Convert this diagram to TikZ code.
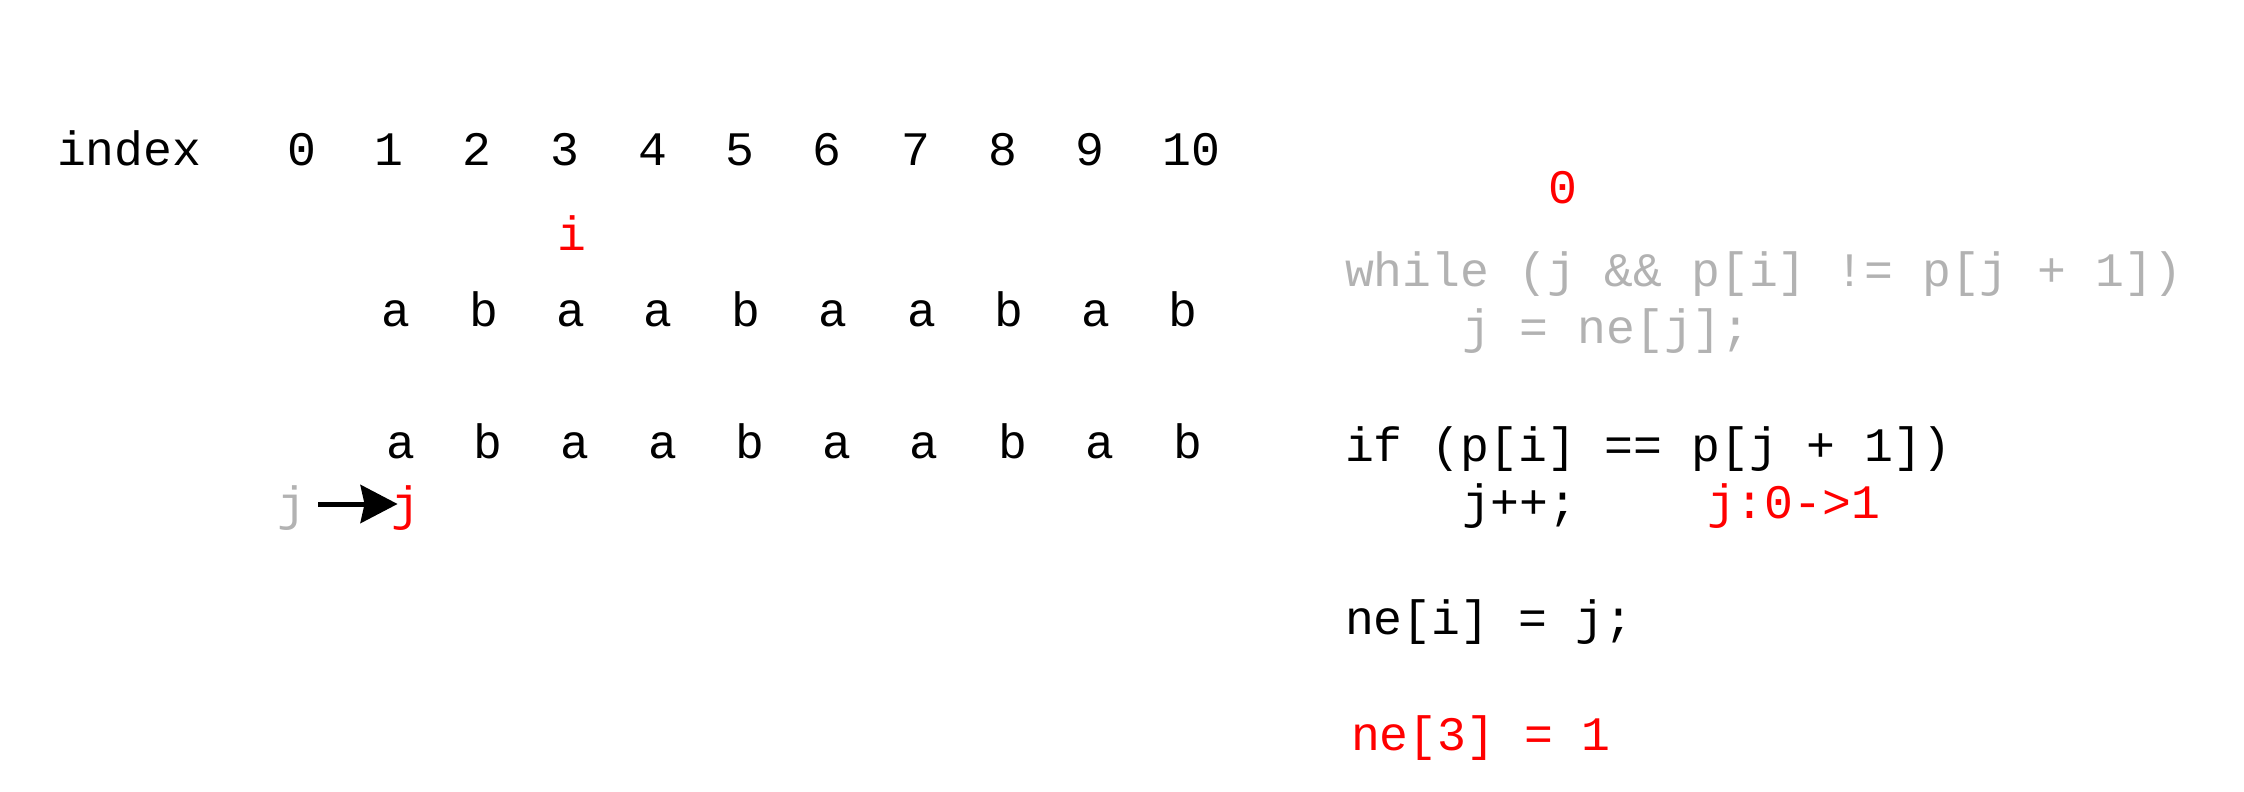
\documentclass[tikz,border=0pt]{standalone}
\usepackage{fontspec}
\newfontfamily\codefont[WordSpace={1,0,0}]{Liberation Mono}
\usetikzlibrary{arrows.meta}
\definecolor{hlred}{RGB}{255,0,0}
\definecolor{dimgray}{RGB}{178,178,178}
\begin{document}
\begin{tikzpicture}[x=0.5pt,y=-0.5pt,
  every node/.style={inner sep=0pt, outer sep=0pt, font=\codefont\fontsize{24.05}{29}\selectfont},
  txt/.style={anchor=base west},
  ctr/.style={anchor=base},
  hl/.style={text=hlred},
  dim/.style={text=dimgray},
  moveArrow/.style={line width=2.5pt, -{Stealth[length=18.5pt,width=19pt,inset=2pt]}}]
\path[use as bounding box] (0,0) rectangle (2244,792);
% index row
\node[txt] (idx) at (57,165) {index};
\foreach \d/\x in {0/302,1/389,2/477,3/565,4/653,5/740,6/827,7/916,8/1003,9/1090,10/1191}
  \node[ctr] (d\d) at (\x,165) {\d};
% i pointer
\node[ctr,hl] (ip) at (572,250) {i};
% first string row
\foreach \c/\x [count=\k] in {a/396,b/484,a/571,a/658,b/746,a/833,a/922,b/1009,a/1096,b/1183}
  \node[ctr] (s\k) at (\x,326) {\c};
% second string row
\foreach \c/\x [count=\k] in {a/401,b/488,a/575,a/663,b/750,a/837,a/924,b/1013,a/1100,b/1188}
  \node[ctr] (p\k) at (\x,458) {\c};
% j pointers
\node[ctr,dim] (gj) at (292,520) {j};
\node[ctr,hl] (rj) at (406,520) {j};
\draw[moveArrow, shorten <=6pt, shorten >=-3pt] ([yshift=8pt]gj.base east) -- ([yshift=8pt]rj.base west);
% code
\node[ctr,hl] (zero) at (1563,203) {0};
\node[txt,dim] (while) at (1345,286) {while (j \&\& p[i] != p[j + 1])};
\node[txt,dim] (assign) at (1462,343) {j = ne[j];};
\node[txt] (ifl) at (1345,461) {if (p[i] == p[j + 1])};
\node[txt] (inc) at (1462,518) {j++;};
\node[txt,hl] (jchg) at (1707,518) {j:0->1};
\node[txt] (nei) at (1345,634) {ne[i] = j;};
\node[txt,hl] (res) at (1351,750) {ne[3] = 1};
\end{tikzpicture}
\end{document}
